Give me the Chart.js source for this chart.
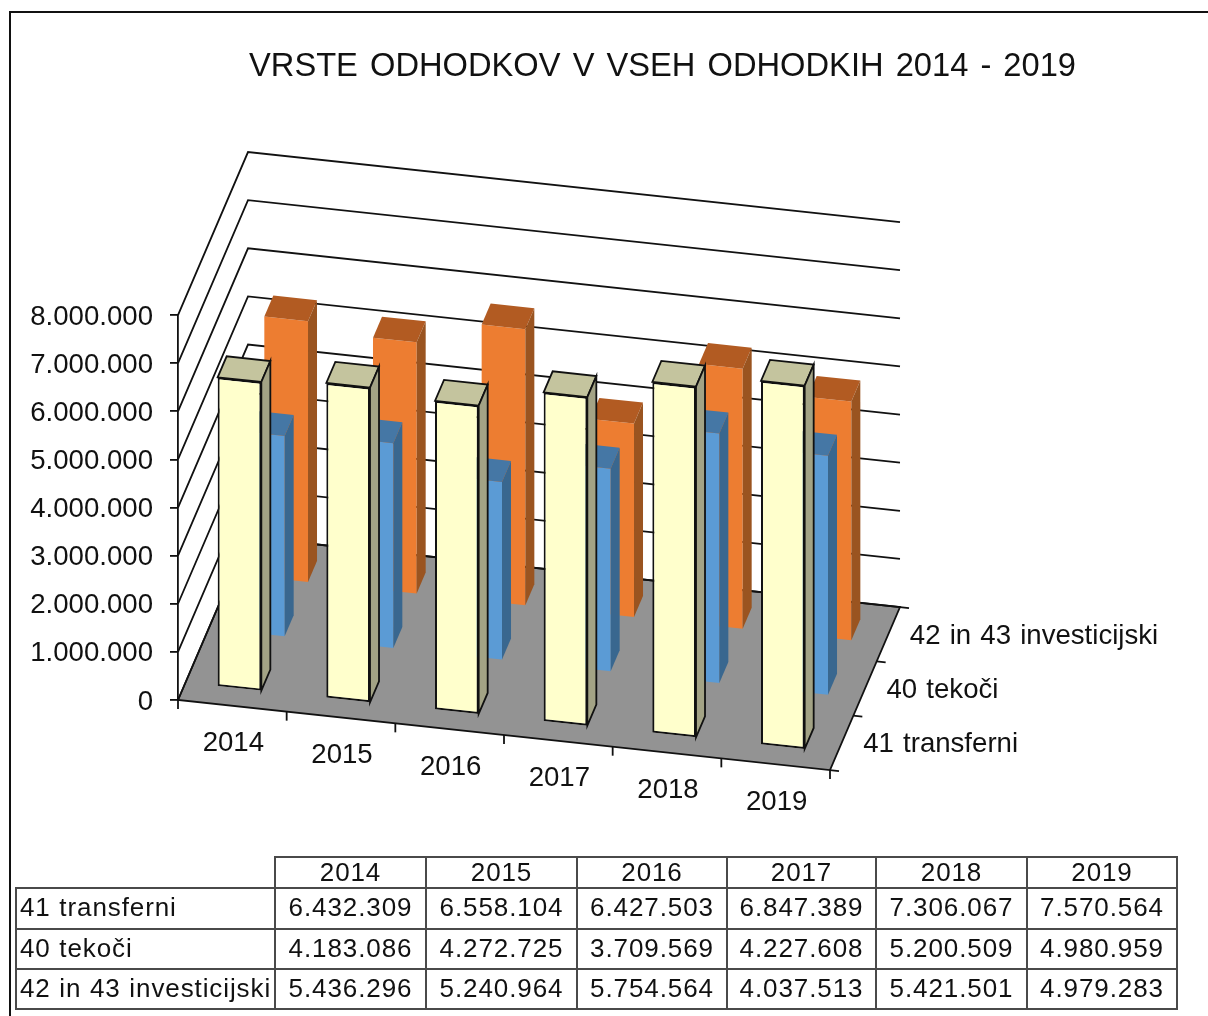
<!DOCTYPE html>
<html>
<head>
<meta charset="utf-8">
<script src="https://cdn.jsdelivr.net/npm/chart.js@4/dist/chart.umd.min.js"></script>
<style>
html,body{margin:0;padding:0;background:#fff;width:1208px;height:1016px;overflow:hidden}
#wrap{position:relative;width:1208px;height:1016px}
#frame{position:absolute;left:9px;top:11px;width:1199px;height:1005px;border-left:2px solid #111;border-top:2px solid #111;box-sizing:border-box;pointer-events:none}
canvas{position:absolute;left:0;top:0}
#tbl{position:absolute;left:15px;top:856px;border-collapse:collapse;table-layout:fixed;width:1161px;font:26px/1 "Liberation Sans",Arial,sans-serif;letter-spacing:.9px;word-spacing:.5px;color:#111}
#tbl td,#tbl th{border:2px solid #4a4a4a;padding:0 0 3px 0;text-align:center;font-weight:normal;white-space:nowrap;overflow:hidden;box-sizing:border-box}
#tbl th{padding-bottom:1px}
#tbl td.h{text-align:left;padding-left:3px}
#tbl th.e{border-top:none;border-left:none}
</style>
</head>
<body>
<div id="wrap">
<canvas id="c" width="1208" height="1016"></canvas>
<div id="frame"></div>
<table id="tbl"></table>
</div>
<script>
const titleText = 'VRSTE ODHODKOV V VSEH ODHODKIH 2014 - 2019';
const years = ['2014','2015','2016','2017','2018','2019'];
const seriesNames = ['41 transferni','40 tekoči','42 in 43 investicijski'];
const transferni = [6432309,6558104,6427503,6847389,7306067,7570564];
const tekoci = [4183086,4272725,3709569,4227608,5200509,4980959];
const investicijski = [5436296,5240964,5754564,4037513,5421501,4979283];

const FONT = '"Liberation Sans",Arial,sans-serif';
const INK = '#111';
const LINE = 1.8;
const DEPTH = {x:70, y:-163};      // floor depth vector
const SHEAR = 0.1074;              // floor slope along categories
const BOX = {x:9, y:-21};          // depth of one bar
const faces = [
  {front:'#FFFFCC', top:'#C4C49E', side:'#A3A385', stroke:INK},
  {front:'#5B9BD5', top:'#4577A5', side:'#39678F', stroke:null},
  {front:'#ED7D31', top:'#B25B22', side:'#9A5420', stroke:null}
];
const fmt = v => String(v).replace(/\B(?=(\d{3})+$)/g,'.');

function rowOffset(r){
  const f=(r+.5)/3;
  return {x:DEPTH.x*f-BOX.x/2, y:DEPTH.y*f-BOX.y/2};
}
const wall3d = {
  id:'wall3d',
  beforeDraw(chart){ chart.ctx.wordSpacing='3px'; },
  afterLayout(chart){
    if(chart.titleBlock){chart.titleBlock.left=249;chart.titleBlock.right=1076;}
  },
  beforeDatasetsDraw(chart){
    const {ctx,scales:{x,y},chartArea:a}=chart;
    const L=a.left,R=a.right,B=a.bottom,w=R-L,drop=SHEAR*w;
    ctx.save();
    ctx.lineJoin='miter';
    ctx.strokeStyle=INK;ctx.lineWidth=LINE;
    // floor
    ctx.beginPath();
    ctx.moveTo(L,B);ctx.lineTo(L+DEPTH.x,B+DEPTH.y);
    ctx.lineTo(R+DEPTH.x,B+DEPTH.y+drop);ctx.lineTo(R,B+drop);ctx.closePath();
    ctx.fillStyle='#939393';ctx.fill();ctx.stroke();
    // walls
    y.ticks.forEach(t=>{
      const p=y.getPixelForValue(t.value);
      ctx.beginPath();
      ctx.moveTo(L,p);ctx.lineTo(L+DEPTH.x,p+DEPTH.y);
      ctx.lineTo(R+DEPTH.x,p+DEPTH.y+drop);ctx.stroke();
    });
    // category ticks and series ticks
    for(let i=0;i<=years.length;i++){
      const px=L+w*i/years.length,py=B+SHEAR*(px-L);
      ctx.beginPath();ctx.moveTo(px,py);ctx.lineTo(px,py+9);ctx.stroke();
    }
    for(let r=0;r<=seriesNames.length;r++){
      const f=r/seriesNames.length,px=R+DEPTH.x*f,py=B+drop+DEPTH.y*f;
      ctx.beginPath();ctx.moveTo(px,py);ctx.lineTo(px+9,py+1);ctx.stroke();
    }
    // category labels
    ctx.wordSpacing='1.5px';
    ctx.fillStyle=INK;ctx.font='27.6px '+FONT;ctx.textAlign='center';ctx.textBaseline='middle';
    years.forEach((lab,i)=>{
      const px=x.getPixelForValue(i);
      ctx.fillText(lab,px+1,B+SHEAR*(px-L)+38);
    });
    // series labels
    ctx.textAlign='left';
    seriesNames.forEach((lab,r)=>{
      const f=(r+.5)/seriesNames.length;
      ctx.fillText(lab,R+DEPTH.x*f+21.5,B+drop+DEPTH.y*f+2);
    });
    ctx.restore();
  },
  beforeDatasetDraw(chart,args){
    const o=rowOffset(args.index),{left}=chart.chartArea,ctx=chart.ctx;
    ctx.save();
    ctx.transform(1,SHEAR,0,1,o.x,o.y-SHEAR*left);
  },
  afterDatasetDraw(chart,args){
    const ctx=chart.ctx,o=rowOffset(args.index),{left}=chart.chartArea,f=faces[args.index];
    ctx.restore();
    const P=(x,y)=>[x+o.x,y+o.y+SHEAR*(x-left)];
    const poly=(pts,fill)=>{
      ctx.beginPath();pts.forEach((p,i)=>i?ctx.lineTo(p[0],p[1]):ctx.moveTo(p[0],p[1]));ctx.closePath();
      ctx.fillStyle=fill;ctx.fill();
      if(f.stroke){ctx.strokeStyle=f.stroke;ctx.lineWidth=LINE;ctx.stroke();}
    };
    args.meta.data.forEach(el=>{
      const {x,y,base,width}=el.getProps(['x','y','base','width'],true);
      const a=P(x-width/2,y),b=P(x+width/2,y),c=P(x+width/2,base);
      const up=p=>[p[0]+BOX.x,p[1]+BOX.y];
      poly([a,b,up(b),up(a)],f.top);
      poly([b,c,up(c),up(b)],f.side);
    });
  }
};

new Chart(document.getElementById('c'),{
  type:'bar',
  data:{
    labels:years,
    datasets:[
      {label:seriesNames[0],data:transferni,backgroundColor:faces[0].front,borderColor:INK,borderWidth:2},
      {label:seriesNames[1],data:tekoci,backgroundColor:faces[1].front,borderWidth:0},
      {label:seriesNames[2],data:investicijski,backgroundColor:faces[2].front,borderWidth:0}
    ]
  },
  options:{
    responsive:false,animation:false,
    clip:false,
    grouped:false,
    categoryPercentage:1,barPercentage:.402,
    borderSkipped:false,
    layout:{padding:{left:0,top:0,right:378,bottom:308}},
    plugins:{
      legend:{display:false},tooltip:{enabled:false},
      title:{display:true,text:titleText,color:INK,align:'center',
        font:{family:FONT,size:32.7,weight:'normal',lineHeight:1.2},
        padding:{top:47.4,bottom:228.4}}
    },
    scales:{
      x:{display:true,grid:{display:false},border:{display:false},ticks:{display:false}},
      y:{min:0,max:8000000,
        afterFit(s){s.width=178;},
        border:{display:true,color:INK,width:LINE},
        grid:{drawOnChartArea:false,drawTicks:true,tickLength:8,color:INK,lineWidth:LINE},
        ticks:{stepSize:1000000,padding:17,labelOffset:2,color:INK,font:{family:FONT,size:27.6},callback:v=>fmt(v)}}
    }
  },
  plugins:[wall3d]
});

// data table
const tbl=document.getElementById('tbl');
const widths=[259,151,151,150,149,151,150];
const heights=[31,41,40,40];
let html='<colgroup>'+widths.map(w=>`<col style="width:${w}px">`).join('')+'</colgroup>';
html+=`<tr style="height:${heights[0]}px"><th class="e"></th>`+years.map(y=>`<th>${y}</th>`).join('')+'</tr>';
[transferni,tekoci,investicijski].forEach((arr,r)=>{
  html+=`<tr style="height:${heights[r+1]}px"><td class="h">${seriesNames[r]}</td>`+arr.map(v=>`<td>${fmt(v)}</td>`).join('')+'</tr>';
});
tbl.innerHTML=html;
</script>
</body>
</html>
